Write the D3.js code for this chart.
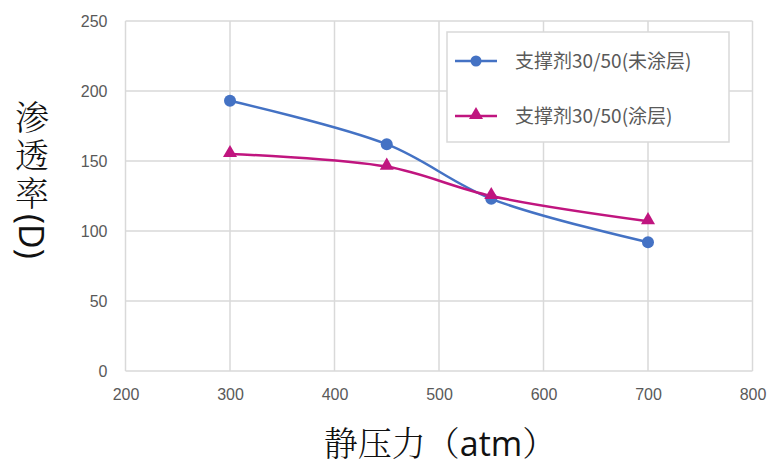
<!DOCTYPE html>
<html><head><meta charset="utf-8">
<script src="https://cdn.jsdelivr.net/npm/d3@7"></script>
<style>body{margin:0;background:#fff;}svg{display:block;}</style>
</head><body>
<script>
const pressures = [300, 450, 550, 700];
const uncoated = [193, 162, 123, 92];
const coated = [155, 146, 125, 107];
const seriesNames = ["支撑剂30/50(未涂层)", "支撑剂30/50(涂层)"];
const xTicks = [200, 300, 400, 500, 600, 700, 800];
const yTicks = [0, 50, 100, 150, 200, 250];
const xTitleParts = ["静压力（", "atm", "）"];
const yTitleParts = ["渗透率", "(D)"];

const W = 769, H = 467;
const svg = d3.select("body").append("svg").attr("width", W).attr("height", H);
const m = {l: 125.5, r: 752.5, t: 21, b: 371};
const x = d3.scaleLinear().domain([200, 800]).range([m.l, m.r]);
const y = d3.scaleLinear().domain([0, 250]).range([m.b, m.t]);

const grid = "#d9d9d9";
svg.append("g").selectAll("line").data(xTicks).join("line")
  .attr("x1", d => x(d)).attr("x2", d => x(d)).attr("y1", m.t).attr("y2", m.b)
  .attr("stroke", grid).attr("stroke-width", 1.5);
svg.append("g").selectAll("line").data(yTicks).join("line")
  .attr("y1", d => y(d)).attr("y2", d => y(d)).attr("x1", m.l).attr("x2", m.r)
  .attr("stroke", grid).attr("stroke-width", 1.5);

const tickFont = "'Liberation Sans', Arial, sans-serif";
const yAxis = svg.append("g").attr("transform", `translate(${m.l},0)`)
  .call(d3.axisLeft(y).tickValues(yTicks).tickSize(0).tickPadding(18));
const xAxis = svg.append("g").attr("transform", `translate(0,${m.b})`)
  .call(d3.axisBottom(x).tickValues(xTicks).tickSize(0).tickPadding(18));
[yAxis, xAxis].forEach(a => {
  a.select(".domain").remove();
  a.selectAll("text").attr("fill", "#595959").style("font-family", tickFont).style("font-size", "16px");
});

const line = d3.line().x(d => x(d[0])).y(d => y(d[1])).curve(d3.curveCatmullRom.alpha(0.5));
const blue = "#4472c4", pink = "#c0157f";
const dBlue = pressures.map((p, i) => [p, uncoated[i]]);
const dPink = pressures.map((p, i) => [p, coated[i]]);

svg.append("path").attr("d", line(dBlue)).attr("fill", "none").attr("stroke", blue).attr("stroke-width", 2.5);
svg.append("path").attr("d", line(dPink)).attr("fill", "none").attr("stroke", pink).attr("stroke-width", 2.5);

const tri = d3.symbol().type(d3.symbolTriangle).size(85);
svg.append("g").selectAll("circle").data(dBlue).join("circle")
  .attr("cx", d => x(d[0])).attr("cy", d => y(d[1])).attr("r", 6).attr("fill", blue);
svg.append("g").selectAll("path").data(dPink).join("path")
  .attr("d", tri).attr("transform", d => `translate(${x(d[0])},${y(d[1]) - 1})`).attr("fill", pink);

// legend
const lg = svg.append("g");
lg.append("rect").attr("x", 447).attr("y", 32).attr("width", 282).attr("height", 110)
  .attr("fill", "#fff").attr("stroke", grid).attr("stroke-width", 1.5);
const entries = [{c: blue, t: "circle", n: seriesNames[0], yy: 61}, {c: pink, t: "tri", n: seriesNames[1], yy: 116}];
entries.forEach(e => {
  lg.append("line").attr("x1", 455).attr("x2", 497).attr("y1", e.yy).attr("y2", e.yy)
    .attr("stroke", e.c).attr("stroke-width", 2.5);
  if (e.t === "circle") lg.append("circle").attr("cx", 476).attr("cy", e.yy).attr("r", 5.5).attr("fill", e.c);
  else lg.append("path").attr("d", tri).attr("transform", `translate(476,${e.yy - 1})`).attr("fill", e.c);
  lg.append("text").attr("x", 515).attr("y", e.yy).attr("dy", "0.36em").text(e.n)
    .attr("fill", "#595959").style("font-family", "'Noto Sans CJK SC', sans-serif").style("font-size", "19px");
});

// axis titles
const cjk = "'Noto Serif CJK SC', 'Noto Sans CJK SC', serif";
const xt = svg.append("text").attr("x", 440).attr("y", 444).attr("dy", "0.36em").attr("text-anchor", "middle")
  .attr("fill", "#111").style("font-family", cjk).style("font-size", "34px").style("font-weight", 300);
xTitleParts.forEach((p, i) => {
  const ts = xt.append("tspan").text(p);
  if (i === 1) ts.style("font-family", "'Open Sans', 'Noto Sans', sans-serif").style("font-weight", 400);
});

const yt = svg.append("text").attr("x", 32).attr("y", 100)
  .style("writing-mode", "vertical-rl").style("text-orientation", "mixed")
  .attr("text-anchor", "start").attr("fill", "#111")
  .style("font-family", cjk).style("font-size", "34px").style("font-weight", 300);
yTitleParts.forEach((p, i) => {
  const ts = yt.append("tspan").text(p);
  if (i === 0) ts.style("letter-spacing", "4px");
  else ts.style("font-family", "'Open Sans', 'Noto Sans', sans-serif").style("font-weight", 400);
});
</script>
</body></html>
